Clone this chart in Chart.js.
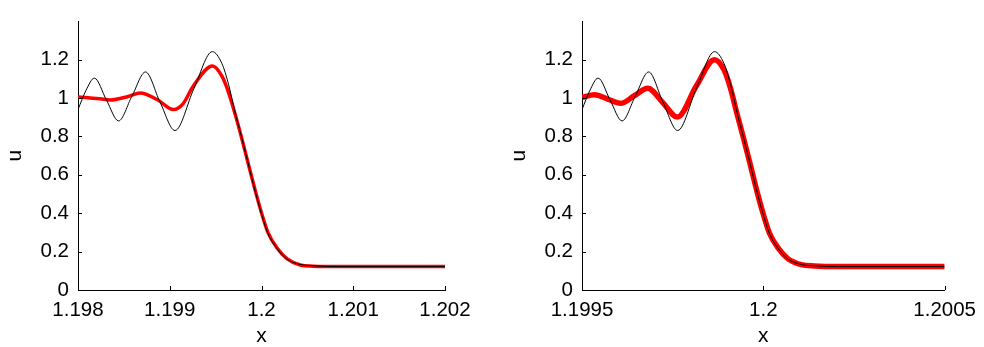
<!DOCTYPE html>
<html>
<head>
<meta charset="utf-8">
<script src="https://cdn.jsdelivr.net/npm/chart.js@4/dist/chart.umd.min.js"></script>
<style>
  body { margin: 0; background: #fff; }
  .wrap { position: relative; width: 984px; height: 347px; }
  canvas { position: absolute; top: 0; }
</style>
</head>
<body>
<div class="wrap">
  <canvas id="leftChart" width="492" height="347" style="left:0"></canvas>
  <canvas id="rightChart" width="492" height="347" style="left:492px"></canvas>
</div>
<script>
// left panel: exact (black) and computed (red)
const blackLeftX = [1.198, 1.198087, 1.198178, 1.19831, 1.198442, 1.198588, 1.198736, 1.198893, 1.199057,
  1.199264, 1.199464, 1.1995686, 1.1996405, 1.1997135, 1.1997865, 1.1998627, 1.1999336, 1.2000044,
  1.2000697, 1.200168, 1.200277, 1.200422, 1.200566, 1.200832, 1.202];
const blackLeftU = [0.94, 1.04, 1.104, 0.99, 0.881, 1.01, 1.136, 0.98, 0.831,
  1.05, 1.242, 1.18, 1.072, 0.923, 0.79, 0.645, 0.51, 0.39,
  0.295, 0.216, 0.161, 0.133, 0.126, 0.122, 0.122];
const redLeftX = [1.198, 1.198109, 1.19824, 1.198349, 1.198545, 1.198678, 1.198871, 1.199041, 1.199144,
  1.199259, 1.199466, 1.1995686, 1.1996405, 1.1997135, 1.1997865, 1.1998627, 1.1999336, 1.2000044,
  1.2000697, 1.200168, 1.200277, 1.200422, 1.200566, 1.200832, 1.202];
const redLeftU = [1.005, 1.002, 0.996, 0.99, 1.008, 1.027, 0.99, 0.94, 0.97,
  1.064, 1.167, 1.114, 1.03, 0.915, 0.787, 0.645, 0.515, 0.395,
  0.3, 0.22, 0.163, 0.13, 0.124, 0.122, 0.122];

// right panel
const blackRightX = [1.1995, 1.1995218, 1.1995443, 1.1995775, 1.1996104, 1.1996469, 1.1996838, 1.199723, 1.1997638,
  1.1998155, 1.1998655, 1.1998916, 1.1999096, 1.1999278, 1.199946, 1.1999651, 1.1999827, 1.2000004,
  1.2000167, 1.2000412, 1.2000684, 1.2001046, 1.2001407, 1.2002071, 1.2005];
const blackRightU = [0.94, 1.04, 1.104, 0.99, 0.881, 1.01, 1.136, 0.98, 0.831,
  1.05, 1.242, 1.18, 1.072, 0.923, 0.79, 0.645, 0.51, 0.39,
  0.295, 0.216, 0.161, 0.133, 0.126, 0.122, 0.122];
const redRightX = [1.1995, 1.1995345, 1.1995707, 1.1996072, 1.1996441, 1.1996814, 1.199723, 1.199763,
  1.1998155, 1.1998652, 1.1998916, 1.1999096, 1.1999278, 1.199946, 1.1999651, 1.1999827, 1.2000004,
  1.2000167, 1.2000412, 1.2000684, 1.2001046, 1.2001407, 1.2002071, 1.2005];
const redRightU = [1.004, 1.017, 0.995, 0.973, 1.012, 1.051, 0.976, 0.901,
  1.064, 1.2, 1.147, 1.05, 0.915, 0.787, 0.645, 0.512, 0.392,
  0.297, 0.218, 0.162, 0.132, 0.125, 0.122, 0.122];

const yTicks = [0, 0.2, 0.4, 0.6, 0.8, 1, 1.2];
const yTickLabels = ['0', '0.2', '0.4', '0.6', '0.8', '1', '1.2'];
const xTicksLeft = [1.198, 1.199, 1.2, 1.201, 1.202];
const xTickLabelsLeft = ['1.198', '1.199', '1.2', '1.201', '1.202'];
const xTicksRight = [1.1995, 1.2, 1.2005];
const xTickLabelsRight = ['1.1995', '1.2', '1.2005'];

const FONT = 'Liberation Sans, Arial, Helvetica, sans-serif';

function pts(xs, ys) {
  return xs.map((x, i) => ({x: x, y: ys[i]}));
}

// matlab-style tick marks pointing into the plot
const innerTicks = {
  id: 'innerTicks',
  afterDraw(chart) {
    const {ctx, chartArea, scales: {x, y}} = chart;
    ctx.save();
    ctx.strokeStyle = '#000';
    ctx.lineWidth = 1;
    ctx.beginPath();
    x.ticks.forEach(t => {
      const px = Math.round(x.getPixelForValue(t.value)) + 0.5;
      ctx.moveTo(px, chartArea.bottom);
      ctx.lineTo(px, chartArea.bottom - 4);
    });
    y.ticks.forEach(t => {
      const py = Math.round(y.getPixelForValue(t.value)) + 0.5;
      ctx.moveTo(chartArea.left, py);
      ctx.lineTo(chartArea.left + 4, py);
    });
    ctx.stroke();
    ctx.restore();
  }
};

function makeChart(id, black, red, redWidth, xMin, xMax, xTicks, xLabels, padLeft, padRight) {
  const ctx = document.getElementById(id).getContext('2d');
  return new Chart(ctx, {
    type: 'line',
    data: {
      datasets: [
        {
          data: black,
          borderColor: '#000',
          borderWidth: 1,
          pointRadius: 0,
          cubicInterpolationMode: 'monotone',
          fill: false
        },
        {
          data: red,
          borderColor: 'rgb(255, 0, 0)',
          borderWidth: redWidth,
          pointRadius: 0,
          cubicInterpolationMode: 'monotone',
          fill: false
        }
      ]
    },
    options: {
      responsive: false,
      animation: false,
      layout: {padding: {top: 9, right: padRight, bottom: 0, left: padLeft}},
      plugins: {legend: {display: false}, tooltip: {enabled: false}},
      scales: {
        x: {
          type: 'linear',
          min: xMin,
          max: xMax,
          grid: {display: false, drawTicks: false},
          border: {display: true, color: '#000', width: 1},
          afterBuildTicks: s => { s.ticks = xTicks.map(v => ({value: v})); },
          afterFit: s => { s.height = 57; },
          ticks: {
            autoSkip: false,
            maxRotation: 0,
            padding: 8,
            color: '#000',
            font: {family: FONT, size: 20.5},
            callback: (v, i) => xLabels[i]
          },
          title: {
            display: true,
            text: 'x',
            color: '#000',
            padding: 0,
            font: {family: FONT, size: 21, lineHeight: 1}
          }
        },
        y: {
          type: 'linear',
          min: 0,
          max: 1.4,
          grid: {display: false, drawTicks: false},
          border: {display: true, color: '#000', width: 1},
          afterBuildTicks: s => { s.ticks = yTicks.map(v => ({value: v})); },
          afterFit: s => { s.width = 78; },
          ticks: {
            padding: 9,
            color: '#000',
            font: {family: FONT, size: 20.5},
            callback: (v, i) => yTickLabels[i]
          },
          title: {
            display: true,
            text: 'u',
            color: '#000',
            padding: {top: 5, bottom: 0},
            font: {family: FONT, size: 21, lineHeight: 1}
          }
        }
      }
    },
    plugins: [innerTicks]
  });
}

makeChart('leftChart', pts(blackLeftX, blackLeftU), pts(redLeftX, redLeftU), 3.5,
  1.198, 1.202, xTicksLeft, xTickLabelsLeft, 0, 47);
makeChart('rightChart', pts(blackRightX, blackRightU), pts(redRightX, redRightU), 5.5,
  1.1995, 1.2005, xTicksRight, xTickLabelsRight, 12, 34);
</script>
</body>
</html>
